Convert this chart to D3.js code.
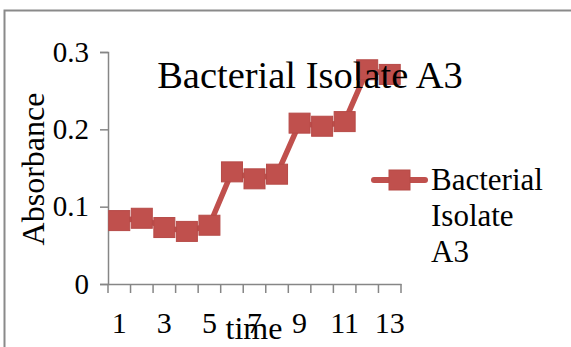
<!DOCTYPE html>
<html><head><meta charset="utf-8">
<script src="https://cdn.jsdelivr.net/npm/d3@7"></script>
<style>html,body{margin:0;padding:0;background:#fff;overflow:hidden}
svg text{font-family:"Liberation Serif","Times New Roman",Times,serif !important;fill:#000}</style>
</head><body>
<svg id="c" width="571" height="347"></svg>
<script>
const categories = [1,2,3,4,5,6,7,8,9,10,11,12,13];
const values = [0.082,0.085,0.073,0.068,0.076,0.145,0.136,0.142,0.208,0.204,0.210,0.277,0.271];
const yTicks = [0,0.1,0.2,0.3];
const xLabels = [1,3,5,7,9,11,13];
const seriesName = ["Bacterial","Isolate","A3"];
const titleText = "Bacterial Isolate A3";
const xTitle = "time", yTitle = "Absorbance";

const svg = d3.select("#c");
const red = "#c0504d";
const axisCol = "#868686";

// chart border
svg.append("path").attr("d","M4.5,347 V10.5 H571").attr("fill","none").attr("stroke","#8a8a8a").attr("stroke-width",2);

const x = d3.scaleBand().domain(categories).range([108,401]);
const y = d3.scaleLinear().domain([0,0.3]).range([284,52]);

// y axis
const ya = svg.append("g").attr("transform","translate(108,0)")
  .call(d3.axisLeft(y).tickValues(yTicks).tickSize(8).tickPadding(11).tickFormat(d=> d===0?"0":d3.format(".1f")(d)));
// x axis
const xa = svg.append("g").attr("transform","translate(0,284)")
  .call(d3.axisBottom(x).tickValues(xLabels).tickSize(0).tickPadding(0));
[ya,xa].forEach(g=>{
  g.attr("font-size",29);
  g.select(".domain").attr("stroke",axisCol).attr("stroke-width",1.5);
  g.selectAll(".tick line").attr("stroke",axisCol).attr("stroke-width",1.5);
  g.selectAll("text").style("font-size","29px");
});
xa.selectAll(".tick text").attr("dy",null).attr("y",48.5).style("font-size","30px");
// x boundary ticks
const bounds = categories.map(c=>x(c)).concat([x.range()[1]]);
svg.append("g").selectAll("line").data(bounds).join("line")
  .attr("x1",d=>d).attr("x2",d=>d).attr("y1",284).attr("y2",293)
  .attr("stroke",axisCol).attr("stroke-width",1.5);

// line
const cx = d=>x(d)+x.bandwidth()/2;
svg.append("path").datum(values)
  .attr("d", d3.line().x((d,i)=>cx(categories[i])).y(d=>y(d)))
  .attr("fill","none").attr("stroke",red).attr("stroke-width",5.5).attr("stroke-linejoin","round");
svg.append("g").selectAll("rect").data(values).join("rect")
  .attr("x",(d,i)=>cx(categories[i])-10.5).attr("y",d=>y(d)-10)
  .attr("width",21).attr("height",20)
  .attr("fill",red).attr("stroke","#b64a47").attr("stroke-width",1);

// title
svg.append("text").attr("x",310).attr("y",88).attr("text-anchor","middle")
  .style("font-size","38.5px").text(titleText);
// axis titles
svg.append("text").attr("x",254).attr("y",339).attr("text-anchor","middle")
  .style("font-size","32px").text(xTitle);
svg.append("text").attr("transform","translate(44,169) rotate(-90)").attr("text-anchor","middle")
  .style("font-size","32px").text(yTitle);

// legend
svg.append("line").attr("x1",374).attr("x2",425).attr("y1",180).attr("y2",180)
  .attr("stroke",red).attr("stroke-width",6).attr("stroke-linecap","round");
svg.append("rect").attr("x",389).attr("y",170).attr("width",21).attr("height",20)
  .attr("fill",red).attr("stroke","#b64a47").attr("stroke-width",1);
const lt = svg.append("text").style("font-size","31px");
seriesName.forEach((w,i)=>{
  lt.append("tspan").attr("x",431).attr("y",190+i*36).text(w);
});
</script>
</body></html>
